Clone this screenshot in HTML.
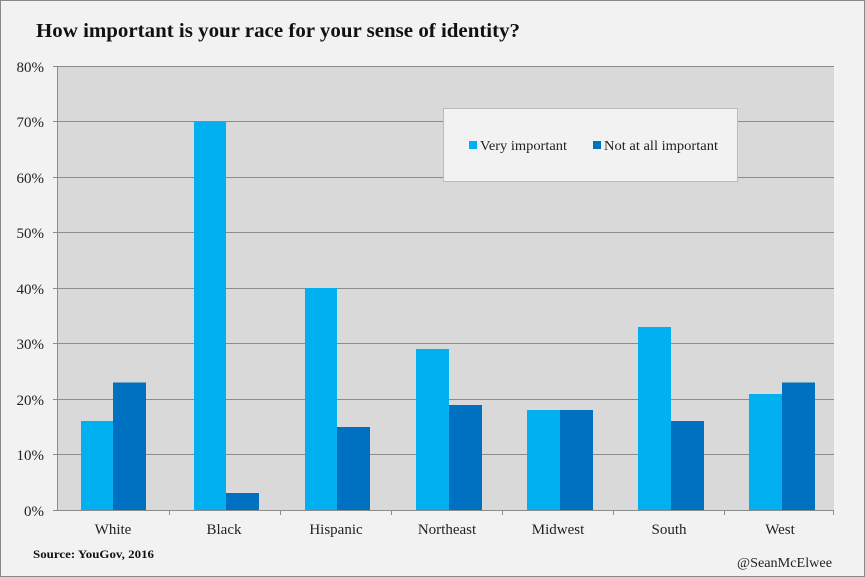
<!DOCTYPE html>
<html><head><style>
html,body{margin:0;padding:0;background:#f2f2f2;}
svg{display:block;font-family:"Liberation Serif",serif;}
</style></head><body>
<svg width="865" height="577" xmlns="http://www.w3.org/2000/svg">
<rect x="0.5" y="0.5" width="864" height="576" fill="#f2f2f2" stroke="#888"/>
<text x="36" y="37" font-size="20" font-weight="bold" fill="#111" textLength="484" lengthAdjust="spacingAndGlyphs">How important is your race for your sense of identity?</text>
<rect x="58" y="66" width="776" height="444" fill="#d9d9d9"/>
<g stroke="#8c8c8c" stroke-width="1">
<line x1="58" x2="834" y1="66.5" y2="66.5"/>
<line x1="58" x2="834" y1="121.5" y2="121.5"/>
<line x1="58" x2="834" y1="177.5" y2="177.5"/>
<line x1="58" x2="834" y1="232.5" y2="232.5"/>
<line x1="58" x2="834" y1="288.5" y2="288.5"/>
<line x1="58" x2="834" y1="343.5" y2="343.5"/>
<line x1="58" x2="834" y1="399.5" y2="399.5"/>
<line x1="58" x2="834" y1="454.5" y2="454.5"/>
<line x1="57.5" x2="57.5" y1="66" y2="510"/>
<line x1="53" x2="834" y1="510.5" y2="510.5"/>
<line x1="53" x2="58" y1="66.5" y2="66.5"/>
<line x1="53" x2="58" y1="121.5" y2="121.5"/>
<line x1="53" x2="58" y1="177.5" y2="177.5"/>
<line x1="53" x2="58" y1="232.5" y2="232.5"/>
<line x1="53" x2="58" y1="288.5" y2="288.5"/>
<line x1="53" x2="58" y1="343.5" y2="343.5"/>
<line x1="53" x2="58" y1="399.5" y2="399.5"/>
<line x1="53" x2="58" y1="454.5" y2="454.5"/>
<line x1="169.5" x2="169.5" y1="510" y2="515"/>
<line x1="280.5" x2="280.5" y1="510" y2="515"/>
<line x1="391.5" x2="391.5" y1="510" y2="515"/>
<line x1="502.5" x2="502.5" y1="510" y2="515"/>
<line x1="613.5" x2="613.5" y1="510" y2="515"/>
<line x1="724.5" x2="724.5" y1="510" y2="515"/>
<line x1="833.5" x2="833.5" y1="510" y2="515"/>
</g>
<g font-size="15" fill="#222" text-anchor="end">
<text x="44" y="72">80%</text><text x="44" y="127">70%</text><text x="44" y="183">60%</text>
<text x="44" y="238">50%</text><text x="44" y="294">40%</text><text x="44" y="349">30%</text>
<text x="44" y="405">20%</text><text x="44" y="460">10%</text><text x="44" y="516">0%</text>
</g>
<g fill="#00b0f0">
<rect x="81" y="421" width="32" height="89"/>
<rect x="194" y="121.5" width="32" height="388.5"/>
<rect x="305" y="288" width="32" height="222"/>
<rect x="416" y="349" width="33" height="161"/>
<rect x="527" y="410" width="33" height="100"/>
<rect x="638" y="327" width="33" height="183"/>
<rect x="749" y="394" width="33" height="116"/>
</g>
<g fill="#0070c0">
<rect x="113" y="382.5" width="33" height="127.5"/>
<rect x="226" y="493" width="33" height="17"/>
<rect x="337" y="427" width="33" height="83"/>
<rect x="449" y="405" width="33" height="105"/>
<rect x="560" y="410" width="33" height="100"/>
<rect x="671" y="421" width="33" height="89"/>
<rect x="782" y="382.5" width="33" height="127.5"/>
</g>
<g font-size="15" fill="#222" text-anchor="middle">
<text x="113" y="534">White</text><text x="224" y="534">Black</text><text x="336" y="534">Hispanic</text>
<text x="447" y="534">Northeast</text><text x="558" y="534">Midwest</text><text x="669" y="534">South</text>
<text x="780" y="534">West</text>
</g>
<rect x="443.5" y="108.5" width="294" height="73" fill="#f2f2f2" stroke="#bbb"/>
<rect x="469" y="141" width="8" height="8" fill="#00b0f0"/>
<text x="480" y="150" font-size="14" fill="#222" textLength="87" lengthAdjust="spacingAndGlyphs">Very important</text>
<rect x="593" y="141" width="8" height="8" fill="#0070c0"/>
<text x="604" y="150" font-size="14" fill="#222" textLength="114" lengthAdjust="spacingAndGlyphs">Not at all important</text>
<text x="33" y="558" font-size="12" font-weight="bold" fill="#111" textLength="121" lengthAdjust="spacingAndGlyphs">Source: YouGov, 2016</text>
<text x="832" y="567" font-size="14" fill="#222" text-anchor="end" textLength="95" lengthAdjust="spacingAndGlyphs">@SeanMcElwee</text>
</svg>
</body></html>
